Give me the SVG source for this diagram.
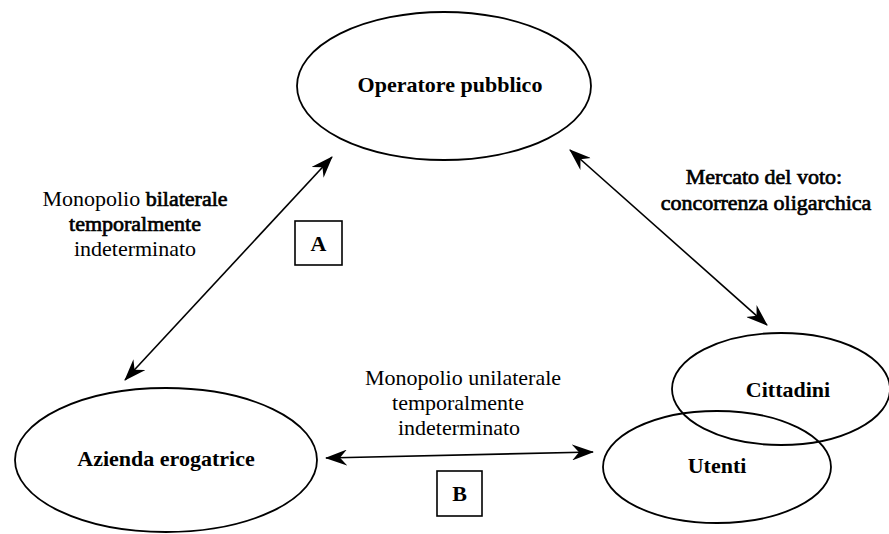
<svg xmlns="http://www.w3.org/2000/svg" width="889" height="534" viewBox="0 0 889 534">
<style>
.node{fill:none;stroke:#000;stroke-width:1.8}
.box{fill:none;stroke:#000;stroke-width:1.6}
.lbl{font-family:"Liberation Serif","Times New Roman",serif;font-size:22px;fill:#000;text-anchor:middle}
.b{font-weight:bold}
.heavy{stroke:#000;stroke-width:0.7}
.conn{stroke:#000;stroke-width:1.6;fill:none}
</style>
<defs>
<marker id="ah" viewBox="0 0 22 16" refX="21" refY="8" markerWidth="22" markerHeight="16" markerUnits="userSpaceOnUse" orient="auto-start-reverse">
<path d="M0,0 L22,8 L0,16 L7,8 Z" fill="#000"/>
</marker>
</defs>
<rect width="889" height="534" fill="#fff"/>
<g id="operatore">
<ellipse class="node" cx="444" cy="86" rx="147" ry="74"/>
<text class="lbl b" x="450" y="92">Operatore pubblico</text>
</g>
<g id="azienda">
<ellipse class="node" cx="166" cy="460" rx="151" ry="72"/>
<text class="lbl b" x="166" y="466">Azienda erogatrice</text>
</g>
<g id="cittadini">
<ellipse class="node" cx="781" cy="389" rx="109" ry="56"/>
<text class="lbl b" x="788" y="397">Cittadini</text>
</g>
<g id="utenti">
<ellipse class="node" cx="717" cy="467" rx="114" ry="56"/>
<text class="lbl b" x="717" y="473">Utenti</text>
</g>
<g id="boxA">
<rect class="box" x="295" y="221" width="47" height="44"/>
<text class="lbl b" x="318.5" y="251">A</text>
</g>
<g id="boxB">
<rect class="box" x="437" y="471" width="45" height="45"/>
<text class="lbl b" x="459.5" y="501">B</text>
</g>
<g id="connectors">
<line class="conn" x1="125" y1="380" x2="332" y2="157" marker-start="url(#ah)" marker-end="url(#ah)"/>
<line class="conn" x1="570" y1="150" x2="767" y2="325" marker-start="url(#ah)" marker-end="url(#ah)"/>
<line class="conn" x1="326" y1="458" x2="593" y2="452" marker-start="url(#ah)" marker-end="url(#ah)"/>
</g>
<g id="labels">
<text class="lbl" x="135" y="206">Monopolio <tspan class="heavy">bilaterale</tspan></text>
<text class="lbl heavy" x="135" y="231">temporalmente</text>
<text class="lbl" x="135" y="256">indeterminato</text>
<text class="lbl heavy" x="764" y="184">Mercato del voto:</text>
<text class="lbl heavy" x="766" y="210">concorrenza oligarchica</text>
<text class="lbl" x="463" y="385">Monopolio unilaterale</text>
<text class="lbl" x="458" y="410">temporalmente</text>
<text class="lbl" x="459" y="435">indeterminato</text>
</g>
</svg>
